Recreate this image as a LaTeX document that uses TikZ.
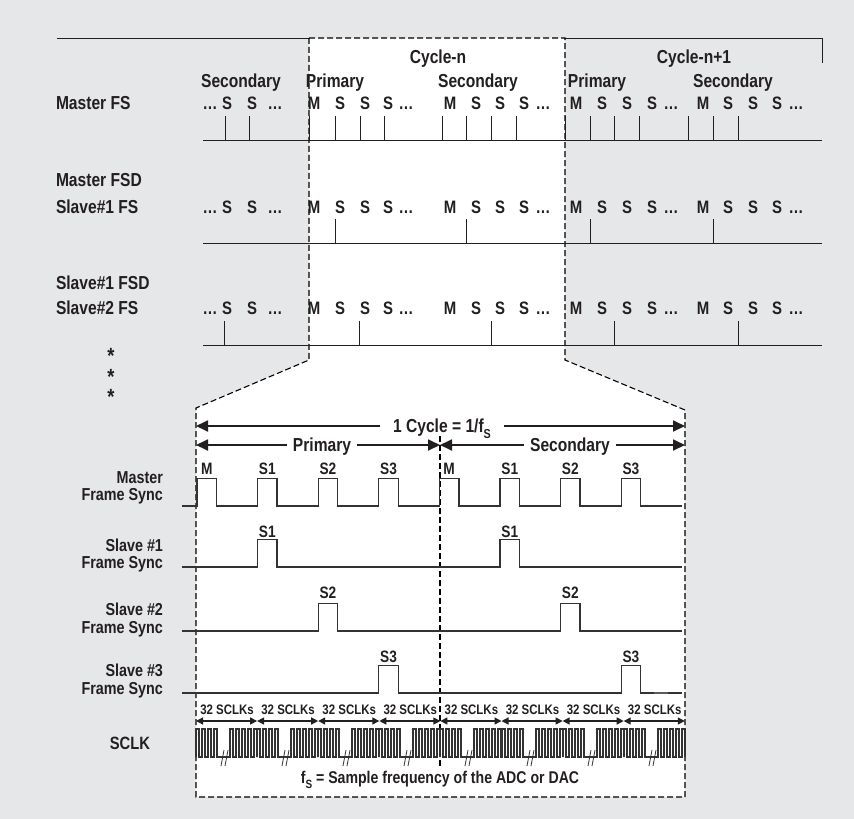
\documentclass[tikz,border=0pt]{standalone}
\usepackage{fontspec}
\setmainfont{Liberation Sans}[FakeStretch=0.83]
\usetikzlibrary{arrows.meta}
\definecolor{bg}{HTML}{E6E7E8}
\definecolor{ink}{HTML}{231F20}
\definecolor{wavec}{HTML}{333333}
\begin{document}
\begin{tikzpicture}[x=1pt,y=-1pt,
  txt/.style={inner sep=0pt, outer sep=0pt, text=ink,
    font=\bfseries\fontsize{#1}{#1}\selectfont,
    text height={0.69*#1pt}, text depth=0pt},
  lbl/.style={txt=18.8, anchor=west},
  ltr/.style={txt=18},
  wlbl/.style={txt=17.3, anchor=east},
  plbl/.style={txt=16.5},
  slbl/.style={txt=13.8},
  albl/.style={txt=18.8, fill=white, inner xsep=6pt},
  tk/.style={draw=ink, line width=0.9pt},
  boxline/.style={draw=black, line width=1.1pt, dash pattern=on 6pt off 3pt},
  wv/.style={draw=wavec, line width=1.3pt},
  bigarrow/.style={draw=ink, line width=1.8pt, {Triangle[length=12pt,width=11pt]}-{Triangle[length=12pt,width=11pt]}},
  smallarrow/.style={draw=ink, line width=1.3pt, {Triangle[length=7pt,width=7pt]}-{Triangle[length=7pt,width=7pt]}},
]
\useasboundingbox (0,0) rectangle (854,819);
\fill[bg] (0,0) rectangle (854,819);
\fill[white] (309,38) -- (565,38) -- (565,360) -- (685,410) -- (685,797) -- (196,797) -- (196,408) -- (309,360) -- cycle;

% top frame
\draw[tk] (57,38) -- (309,38);
\draw[tk] (565,38) -- (822,38) -- (822,63);
\draw[boxline] (309,38) -- (565,38) -- (565,360) -- (685,410) -- (685,797) -- (196,797) -- (196,408) -- (309,360) -- cycle;

% cycle headings
\node[txt=18.8] (cn) at (438,57) {Cycle-n};
\node[txt=18.8] (cn1) at (694,57) {Cycle-n+1};
\node[txt=18.8] (sec0) at (241,81) {Secondary};
\node[txt=18.8] (pri1) at (335,81) {Primary};
\node[txt=18.8] (sec1) at (478,81) {Secondary};
\node[txt=18.8] (pri2) at (597,81) {Primary};
\node[txt=18.8] (sec2) at (733,81) {Secondary};

% row labels
\node[lbl] (mfs) at (56,103) {Master FS};
\node[lbl] (mfsd) at (56,180) {Master FSD};
\node[lbl] (s1fs) at (56,207) {Slave\#1 FS};
\node[lbl] (s1fsd) at (56,283) {Slave\#1 FSD};
\node[lbl] (s2fs) at (56,308) {Slave\#2 FS};

% letter rows
\foreach \r/\yy in {a/103, b/207, c/308} {
  \foreach \x/\t [count=\i] in {210/…, 227/S, 252/S, 275/…,
      314/M, 340/S, 365/S, 388/S, 406/…,
      450/M, 476/S, 500/S, 524/S, 543/…,
      576/M, 602/S, 627/S, 652/S, 671/…,
      703/M, 728/S, 753/S, 777/S, 796/…}
    \node[ltr] (\r\i) at (\x,\yy) {\t};
}

% tick rows
\foreach \x in {225,249,309,335,360,384,442,466,491,516,565,590,614,639,688,713,738}
  \draw[tk] (\x,116) -- (\x,140);
\draw[tk] (203,140) -- (822,140);
\foreach \x in {335,466,590,713}
  \draw[tk] (\x,219) -- (\x,243);
\draw[tk] (203,243) -- (822,243);
\foreach \x in {224,359,491,614,738}
  \draw[tk] (\x,321) -- (\x,345);
\draw[tk] (203,345) -- (822,345);

% asterisks
\foreach \yy [count=\i] in {348,369,389}
  \node[txt=22, anchor=north] (ast\i) at (111,\yy) {*};

% cycle arrows
\coordinate (cl) at (196,426);
\coordinate (cr) at (685,426);
\draw[bigarrow] (cl) -- (cr);
\node[albl, inner xsep=13pt] (cyc) at (442,426) {1 Cycle = 1/f\raisebox{-0.3em}{\fontsize{13}{13}\selectfont S}};
\coordinate (pl) at (196,445);
\coordinate (pm) at (440,445);
\coordinate (pr) at (685,445);
\draw[bigarrow] (pl) -- (pm);
\draw[bigarrow] (pm) -- (pr);
\node[albl] (prim) at (322,445) {Primary};
\node[albl] (secd) at (570,445) {Secondary};
\draw[boxline] (440,436) -- (440,768);

% waveform labels
\node[wlbl] (ml1) at (163,478) {Master};
\node[wlbl] (ml2) at (163,495) {Frame Sync};
\node[wlbl] (s1l1) at (163,546) {Slave \#1};
\node[wlbl] (s1l2) at (163,563) {Frame Sync};
\node[wlbl] (s2l1) at (163,610) {Slave \#2};
\node[wlbl] (s2l2) at (163,628) {Frame Sync};
\node[wlbl] (s3l1) at (163,671) {Slave \#3};
\node[wlbl] (s3l2) at (163,689) {Frame Sync};
\node[wlbl, txt=17.8] (sclk) at (150,743) {SCLK};

% master frame sync
\draw[wv] (182,506) \foreach \k in {0,...,7}{ -- ({197+60.6*\k},506) -- ++(0,-27.5) -- ++(19.5,0) -- ++(0,27.5) } -- (682,506);
\foreach \t [count=\i from 0] in {M,S1,S2,S3,M,S1,S2,S3}
  \node[plbl] (mp\i) at ({206.75+60.6*\i},469) {\t};

% slave frame syncs
\foreach \s/\yy/\ly in {1/567/532, 2/631/593, 3/693/657} {
  \draw[wv] (182,\yy) -- ({197+60.6*\s},\yy) -- ++(0,-27.5) -- ++(19.5,0) -- ++(0,27.5)
    -- ({197+60.6*(\s+4)},\yy) -- ++(0,-27.5) -- ++(19.5,0) -- ++(0,27.5) -- (682,\yy);
  \node[plbl] (sp\s a) at ({206.75+60.6*\s},\ly) {S\s};
  \node[plbl] (sp\s b) at ({206.75+60.6*(\s+4)},\ly) {S\s};
}
\draw[draw=wavec!80, line width=2.2pt] (654,693) -- (668,693);

% 32 SCLKs arrows
\foreach \k in {0,...,8}
  \coordinate (b\k) at ({196+61.1*\k},721);
\foreach \k [count=\n] in {0,...,7} {
  \draw[smallarrow] (b\k) -- (b\n);
  \node[slbl] (sc\k) at ({227+61.1*\k},710) {32 SCLKs};
}

% SCLK waveform
\draw[wv, line width=1.2pt] (196,757)
  \foreach \k in {0,...,7}{
    \foreach \o in {0,6,12,18,34,40,46,52,58}{
      -- ({196+round(61.1*\k)+\o},757) -- ++(0,-28) -- ++(3,0) -- ++(0,28)
    }
  } -- (685,757);
\foreach \k in {0,...,7} {
  \draw[wv, line width=0.8pt] ({196+round(61.1*\k)+25},766) -- ++(3,-16);
  \draw[wv, line width=0.8pt] ({196+round(61.1*\k)+29},766) -- ++(3,-16);
}

\node[txt=17] (fs) at (440,778) {f\raisebox{-0.3em}{\fontsize{12}{12}\selectfont S} = Sample frequency of the ADC or DAC};
\end{tikzpicture}
\end{document}
